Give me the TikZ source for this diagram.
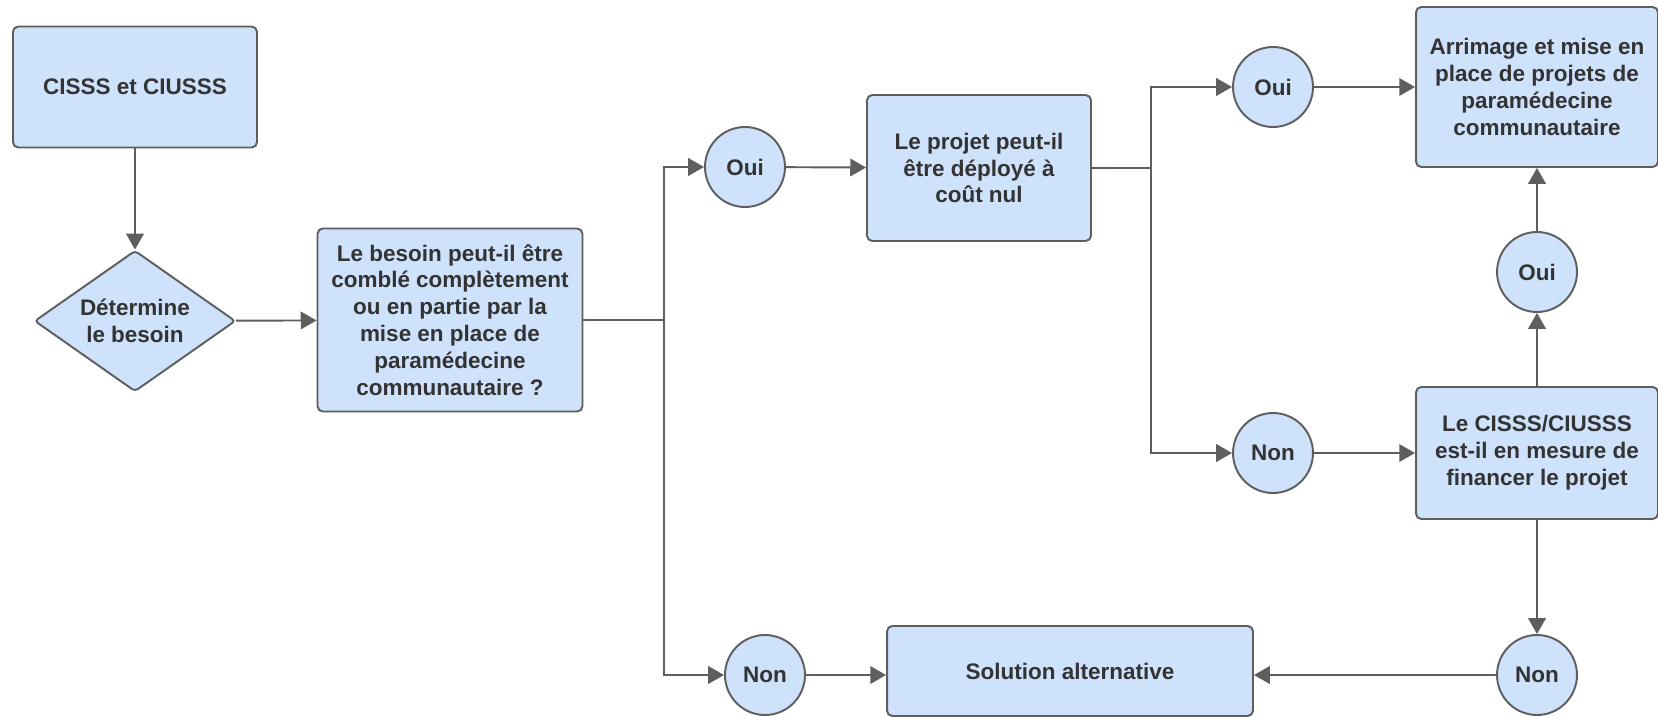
\documentclass[tikz,border=0pt]{standalone}
\usepackage{fontspec}
\setmainfont{Liberation Sans}
\usetikzlibrary{arrows.meta,shapes.geometric}
\definecolor{boxfill}{RGB}{207,226,252}
\definecolor{edge}{RGB}{94,94,94}
\definecolor{ink}{RGB}{51,51,51}

\begin{document}
\begin{tikzpicture}[x=.02cm,y=-.02cm,
  font=\fontsize{12.8}{15.3}\selectfont\bfseries,
  box/.style={draw=edge,fill=boxfill,text=ink,line width=1.1pt,rounded corners=3pt,
    align=center,inner sep=0pt},
  answer/.style={circle,draw=edge,fill=boxfill,text=ink,line width=1.1pt,
    minimum size=1.6cm,inner sep=0pt},
  choice/.style={diamond,draw=edge,fill=boxfill,text=ink,line width=1.1pt,
    rounded corners=2pt,aspect=1.43,minimum width=4.02cm,minimum height=2.82cm,
    inner sep=0pt,align=center},
  link/.style={draw=edge,line width=1.1pt},
  flow/.style={link,-{Triangle[length=9pt,width=10pt]}}
]
 \path[use as bounding box] (0,0) rectangle (1658,717);

 % left part: start and first question
 \node[box,minimum width=4.88cm,minimum height=2.42cm] (cisss) at (135,87) {CISSS et CIUSSS};
 \node[choice] (besoin) at (135,321) {Détermine\\le besoin};
 \node[box,minimum width=5.3cm,minimum height=3.66cm] (combler) at (450,320)
   {Le besoin peut-il être\\comblé complètement\\ou en partie par la\\mise en place de\\paramédecine\\communautaire ?};

 % middle part
 \node[answer] (oui1) at (745,167) {Oui};
 \node[answer] (non1) at (765,675) {Non};
 \node[box,minimum width=4.48cm,minimum height=2.92cm] (projet) at (979,168)
   {Le projet peut-il\\être déployé à\\coût nul};
 \node[box,minimum width=7.32cm,minimum height=1.8cm] (solution) at (1070,671)
   {Solution alternative};

 % right part
 \node[answer] (oui2) at (1273,87) {Oui};
 \node[answer] (non2) at (1273,453) {Non};
 \node[box,minimum width=4.84cm,minimum height=3.2cm] (arrimage) at (1537,87)
   {Arrimage et mise en\\place de projets de\\paramédecine\\communautaire};
 \node[answer] (oui3) at (1537,272) {Oui};
 \node[box,minimum width=4.84cm,minimum height=2.64cm] (financer) at (1537,453)
   {Le CISSS/CIUSSS\\est-il en mesure de\\financer le projet};
 \node[answer] (non3) at (1537,675) {Non};

 \coordinate (j1) at (664,320);
 \coordinate (j2) at (1151,168);

 \draw[flow] (cisss) -- (besoin);
 \draw[flow] (besoin) -- (combler);
 \draw[link] (combler.east) -- (j1);
 \draw[flow] (j1) |- (oui1);
 \draw[flow] (j1) |- (non1);
 \draw[flow] (oui1) -- (projet);
 \draw[flow] (non1) -- (non1 -| solution.west);
 \draw[link] (projet.east) -- (j2);
 \draw[flow] (j2) |- (oui2);
 \draw[flow] (j2) |- (non2);
 \draw[flow] (oui2) -- (arrimage);
 \draw[flow] (non2) -- (financer);
 \draw[flow] (financer) -- (oui3);
 \draw[flow] (oui3) -- (arrimage);
 \draw[flow] (financer) -- (non3);
 \draw[flow] (non3) -- (non3 -| solution.east);
\end{tikzpicture}
\end{document}
